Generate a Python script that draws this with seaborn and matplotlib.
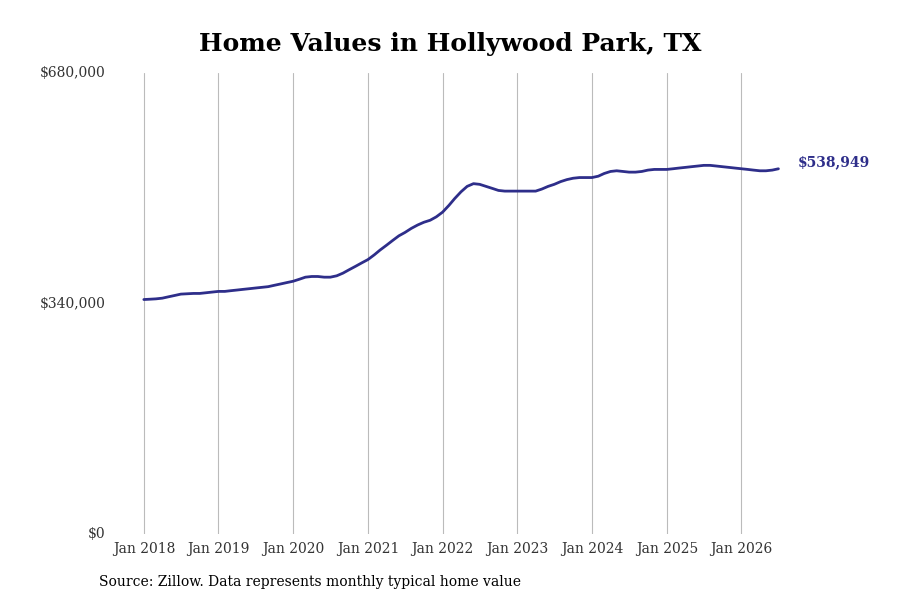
import pandas as pd
import matplotlib.pyplot as plt
import matplotlib.dates as mdates
import seaborn as sns

# monthly typical home value, thousands of dollars
values = [
    346, 346.5, 347, 348, 350, 352, 354, 354.5, 355, 355, 356, 357,
    358, 358, 359, 360, 361, 362, 363, 364, 365, 367, 369, 371,
    373, 376, 379, 380, 380, 379, 379, 381, 385, 390, 395, 400,
    405, 412, 419, 426, 433, 440, 445, 451, 456, 460, 463, 468,
    475, 485, 495, 505, 513, 517, 516, 513, 510, 507, 506, 506,
    506, 506, 506, 506, 509, 513, 516, 520, 523, 525, 526, 526,
    526, 528, 532, 535, 536, 535, 534, 534, 535, 537, 538, 538,
    538, 539, 540, 541, 542, 543, 544, 544, 543, 542, 541, 540,
    539, 538, 537, 536, 536, 537, 538.949,
]
df = pd.DataFrame({
    "date": pd.date_range("2018-01-01", periods=len(values), freq="MS"),
    "value": [v * 1000 for v in values],
})

sns.set_style("white")
plt.rcParams['font.family'] = ['DejaVu Serif']
color = "#2e2e8a"

fig = plt.figure(figsize=(9, 6), dpi=100)
ax = fig.add_axes([0.133, 0.11, 0.756, 0.768])
sns.lineplot(data=df, x="date", y="value", color=color, linewidth=2, ax=ax)

ax.set_ylim(0, 680000)
ax.set_xlim(pd.Timestamp("2017-09-05"), pd.Timestamp("2026-10-15"))
ax.set_yticks([0, 340000, 680000])
ax.set_yticklabels(["$0", "$340,000", "$680,000"], fontsize=10, color="#333333")
ax.xaxis.set_major_locator(mdates.YearLocator())
ax.xaxis.set_major_formatter(mdates.DateFormatter("Jan %Y"))
ax.tick_params(axis="x", labelsize=10, colors="#333333", length=0, pad=6)
ax.tick_params(axis="y", length=0, pad=10)
for lbl in ax.get_yticklabels():
    lbl.set_verticalalignment("center")
ax.grid(axis="x", color="#bbbbbb", linewidth=0.8)
ax.grid(axis="y", visible=False)
for s in ax.spines.values():
    s.set_visible(False)
ax.set_xlabel("")
ax.set_ylabel("")

last = df.iloc[-1]
ax.annotate(f"${last['value']:,.0f}", (last["date"], last["value"]),
            xytext=(14, 5), textcoords="offset points", va="center",
            fontsize=10, fontweight="bold", color=color)

fig.text(0.5, 0.927, "Home Values in Hollywood Park, TX", ha="center", va="center",
         fontsize=18, fontweight="bold", color="black")
fig.text(0.11, 0.03, "Source: Zillow. Data represents monthly typical home value",
         fontsize=10, va="center", color="black")

plt.savefig("out.png", dpi=100)
plt.close()
